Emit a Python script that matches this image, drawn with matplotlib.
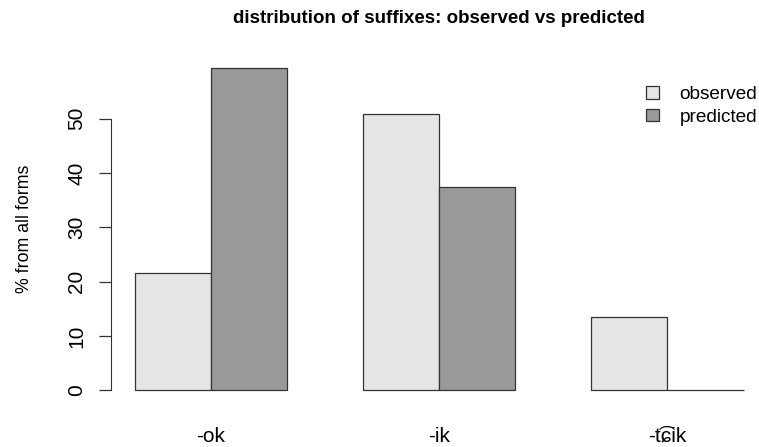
import numpy as np
import matplotlib.pyplot as plt

plt.rcParams['font.family'] = ['Liberation Sans', 'DejaVu Sans']

# data
suffixes = ['-ok', '-ik', '-t\u0361\u0255ik']
observed = [21.5, 50.8, 13.4]
predicted = [59.4, 37.4, 0.0]
series_names = ['observed', 'predicted']
yticks = [0, 10, 20, 30, 40, 50]

col_obs = '#e5e5e5'
col_pred = '#999999'
edge = '#333333'

fig = plt.figure(figsize=(7.59, 4.47), dpi=100)
ax = fig.add_axes([0.1457, 0.0984, 0.866, 0.779])

# R style beside barplot: bar width 1, one bar of space between groups
starts = 1 + 3 * np.arange(len(suffixes))
ax.bar(starts + 0.5, observed, width=1, color=col_obs, edgecolor=edge, linewidth=0.9, label=series_names[0])
ax.bar(starts + 1.5, predicted, width=1, color=col_pred, edgecolor=edge, linewidth=0.9, label=series_names[1])

xmin, xmax = starts[0], starts[-1] + 2
dx = (xmax - xmin) * 0.04
ax.set_xlim(xmin - dx, xmax + dx)
ymax = max(max(observed), max(predicted))
ax.set_ylim(-ymax * 0.04, ymax * 1.04)

for s in ['top', 'right', 'bottom']:
    ax.spines[s].set_visible(False)
ax.spines['left'].set_bounds(0, 50)
ax.spines['left'].set_color('#333333')

ax.set_yticks(yticks)
ax.set_yticklabels([str(v) for v in yticks], rotation=90, va='center', fontsize=15)
ax.tick_params(axis='y', length=9, width=0.9, color='#333333', pad=8.5)
ax.set_xticks(starts + 1)
ax.set_xticklabels(suffixes, fontsize=15)
ax.tick_params(axis='x', length=0, pad=17)

ax.set_ylabel('% from all forms', fontsize=12.8, labelpad=25)
ax.set_title('distribution of suffixes: observed vs predicted', fontsize=13.5, fontweight='bold', pad=23)

ax.legend(loc='upper right', bbox_to_anchor=(1.01, 0.96), frameon=False, fontsize=13.7,
          handlelength=0.65, handleheight=0.65, handletextpad=1.1, labelspacing=0.3)

fig.savefig('out.png', dpi=100)
